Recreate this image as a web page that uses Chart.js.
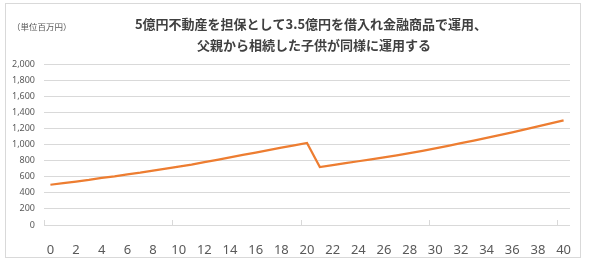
<!DOCTYPE html>
<html>
<head>
<meta charset="utf-8">
<script src="https://cdn.jsdelivr.net/npm/chart.js@4"></script>
<style>
  html, body { margin: 0; padding: 0; background: #fff; }
  #wrap { width: 600px; height: 268px; position: relative; }
</style>
</head>
<body>
<div id="wrap"><canvas id="chart" width="600" height="268"></canvas></div>
<script>
// years 0..40
const years = [];
for (let i = 0; i <= 40; i++) years.push(String(i));

// asset value (million yen)
const assetValues = [
  500, 520, 540, 560, 585, 605, 630, 650, 675, 700,
  725, 750, 780, 810, 840, 870, 900, 930, 960, 990,
  1020, 720, 745, 768, 792, 816, 840, 866, 893, 922,
  952, 984, 1016, 1049, 1082, 1116, 1150, 1187, 1225, 1262,
  1300
];

const titleLines = [
  '5億円不動産を担保として3.5億円を借入れ金融商品で運用、',
  '父親から相続した子供が同様に運用する'
];
const unitLabel = '（単位百万円）';

const jpFont = '"Noto Sans CJK JP", "Noto Sans", sans-serif';

// frame, title and unit text, small tick marks every 10 years
const decorations = {
  id: 'decorations',
  beforeDraw(chart) {
    const ctx = chart.ctx;
    ctx.save();
    ctx.fillStyle = '#fff';
    ctx.fillRect(0, 0, chart.width, chart.height);
    ctx.strokeStyle = '#d9d9d9';
    ctx.lineWidth = 1;
    ctx.strokeRect(5.5, 3.5, 575, 254);
    ctx.restore();
  },
  afterDraw(chart) {
    const ctx = chart.ctx;
    ctx.save();
    ctx.fillStyle = '#404040';
    ctx.font = 'bold 13px ' + jpFont;
    ctx.textAlign = 'center';
    ctx.textBaseline = 'middle';
    ctx.fillText(titleLines[0], 311, 24);
    ctx.fillText(titleLines[1], 314, 45);
    ctx.fillStyle = '#595959';
    ctx.font = '8.5px ' + jpFont;
    ctx.textAlign = 'left';
    ctx.fillText(unitLabel, 12, 27);

    const xs = chart.scales.x;
    const half = (xs.getPixelForTick(1) - xs.getPixelForTick(0)) / 2;
    const bottom = chart.chartArea.bottom;
    ctx.strokeStyle = '#d9d9d9';
    ctx.lineWidth = 1;
    for (let i = 0; i < years.length; i += 10) {
      const x = Math.round(xs.getPixelForTick(i) - half) + 0.5;
      ctx.beginPath();
      ctx.moveTo(x, bottom - 5);
      ctx.lineTo(x, bottom + 1);
      ctx.stroke();
    }
    ctx.restore();
  }
};

const ctx = document.getElementById('chart').getContext('2d');
new Chart(ctx, {
  type: 'line',
  data: {
    labels: years,
    datasets: [{
      data: assetValues,
      borderColor: '#ED7D31',
      borderWidth: 2.25,
      pointRadius: 0,
      fill: false,
      tension: 0
    }]
  },
  options: {
    responsive: false,
    animation: false,
    layout: { padding: { top: 64, right: 30, bottom: 0, left: 0 } },
    plugins: {
      legend: { display: false },
      title: { display: false },
      tooltip: { enabled: false }
    },
    scales: {
      x: {
        type: 'category',
        offset: true,
        afterFit: s => { s.height = 43; },
        grid: { display: false },
        border: { display: false },
        ticks: {
          autoSkip: false,
          maxRotation: 0,
          padding: 9,
          color: '#595959',
          font: { family: '"Noto Sans", sans-serif', size: 13 },
          callback: (v, i) => (i % 2 === 0 ? years[i] : '')
        }
      },
      y: {
        min: 0,
        max: 2000,
        afterFit: s => { s.width = 44; },
        grid: { color: '#d9d9d9', lineWidth: 1, drawTicks: false },
        border: { display: false },
        ticks: {
          stepSize: 200,
          padding: 9,
          color: '#595959',
          font: { family: '"Noto Sans", sans-serif', size: 9 },
          callback: v => v.toLocaleString('en-US')
        }
      }
    }
  },
  plugins: [decorations]
});
</script>
</body>
</html>
